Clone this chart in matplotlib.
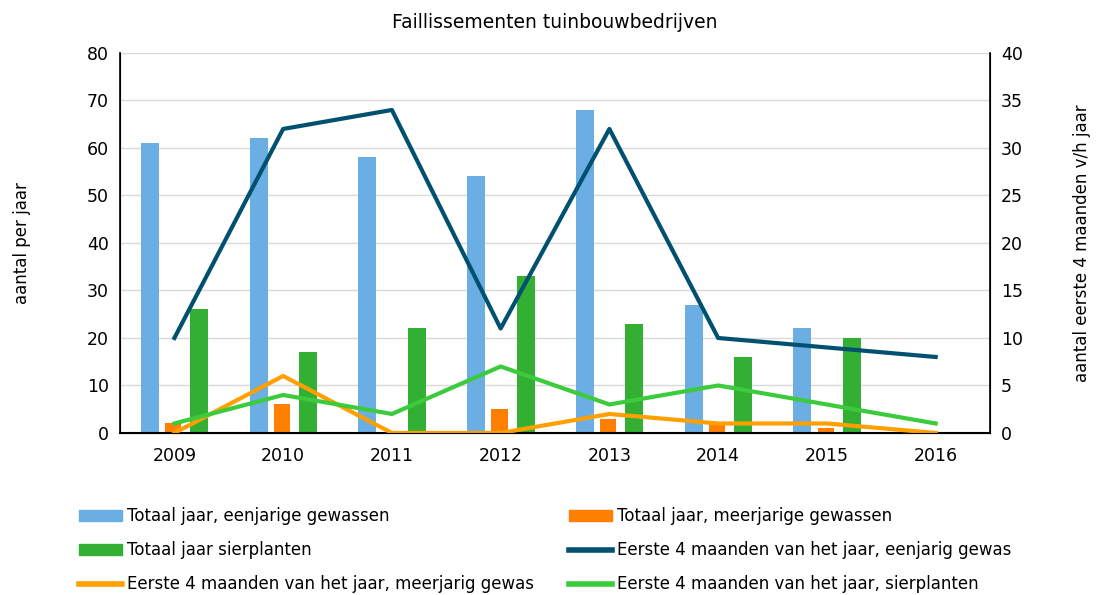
import numpy as np
import matplotlib.pyplot as plt
from matplotlib.patches import Patch
from matplotlib.lines import Line2D

years = ['2009', '2010', '2011', '2012', '2013', '2014', '2015', '2016']

# bars, left axis (aantal per jaar)
totaal_eenjarig = [61, 62, 58, 54, 68, 27, 22, 0]
totaal_meerjarig = [2, 6, 0, 5, 3, 2, 1, 0]
totaal_sierplanten = [26, 17, 22, 33, 23, 16, 20, 0]

# lines, right axis (eerste 4 maanden)
eerste4_eenjarig = [10, 32, 34, 11, 32, 10, 9, 8]
eerste4_meerjarig = [0, 6, 0, 0, 2, 1, 1, 0]
eerste4_sierplanten = [1, 4, 2, 7, 3, 5, 3, 1]

c_blue = '#6AAEE3'
c_orange_bar = '#FF7F00'
c_green_bar = '#33B033'
c_navy = '#00516F'
c_orange_line = '#FFA000'
c_green_line = '#3CCB3C'

plt.rcParams['font.family'] = ['DejaVu Sans']

fig = plt.figure(figsize=(10.96, 5.95), dpi=100)
ax = fig.add_axes([0.1095, 0.2723, 0.7938, 0.6387])
ax2 = ax.twinx()

x = np.arange(len(years))
w = 0.165
ax.bar(x - 0.225, totaal_eenjarig, w, color=c_blue, zorder=2)
ax.bar(x - 0.01, totaal_meerjarig, w * 0.9, color=c_orange_bar, zorder=2)
ax.bar(x + 0.23, totaal_sierplanten, w, color=c_green_bar, zorder=2)

ax2.plot(x, eerste4_eenjarig, color=c_navy, lw=3)
ax2.plot(x, eerste4_meerjarig, color=c_orange_line, lw=3)
ax2.plot(x, eerste4_sierplanten, color=c_green_line, lw=3)

ax.set_xlim(-0.5, len(years) - 0.5)
ax.set_ylim(0, 80)
ax2.set_ylim(0, 40)
ax.set_yticks(range(0, 81, 10))
ax2.set_yticks(range(0, 41, 5))
ax.set_xticks(x)
ax.set_xticklabels(years)

ax.grid(axis='y', color='#D9D9D9', lw=1, zorder=0)
ax.set_axisbelow(True)

for a in (ax, ax2):
    a.spines['top'].set_visible(False)
    a.tick_params(length=0, labelsize=12.5, colors='#000000', pad=8)
ax.spines['left'].set_linewidth(1.2)
ax2.spines['right'].set_linewidth(1.2)
ax.spines['bottom'].set_linewidth(1.5)
ax.tick_params(axis='x', pad=10)

ax.set_ylabel('aantal per jaar', fontsize=12, labelpad=40)
ax2.set_ylabel('aantal eerste 4 maanden v/h jaar', fontsize=12, labelpad=36)
ax.set_title('Faillissementen tuinbouwbedrijven', fontsize=13.5, pad=18)

handles = [
    Patch(color=c_blue), Patch(color=c_green_bar),
    Line2D([], [], color=c_orange_line, lw=4),
    Patch(color=c_orange_bar),
    Line2D([], [], color=c_navy, lw=4),
    Line2D([], [], color=c_green_line, lw=4),
]
labels = [
    'Totaal jaar, eenjarige gewassen',
    'Totaal jaar sierplanten',
    'Eerste 4 maanden van het jaar, meerjarig gewas',
    'Totaal jaar, meerjarige gewassen',
    'Eerste 4 maanden van het jaar, eenjarig gewas',
    'Eerste 4 maanden van het jaar, sierplanten',
]
fig.legend(handles, labels, ncol=2, loc='lower left', bbox_to_anchor=(0.058, -0.022),
           frameon=False, fontsize=12, handlelength=2.6, handleheight=0.6,
           handletextpad=0.3, columnspacing=2.1, labelspacing=0.95)

plt.savefig('out.png', dpi=100)
plt.close()
